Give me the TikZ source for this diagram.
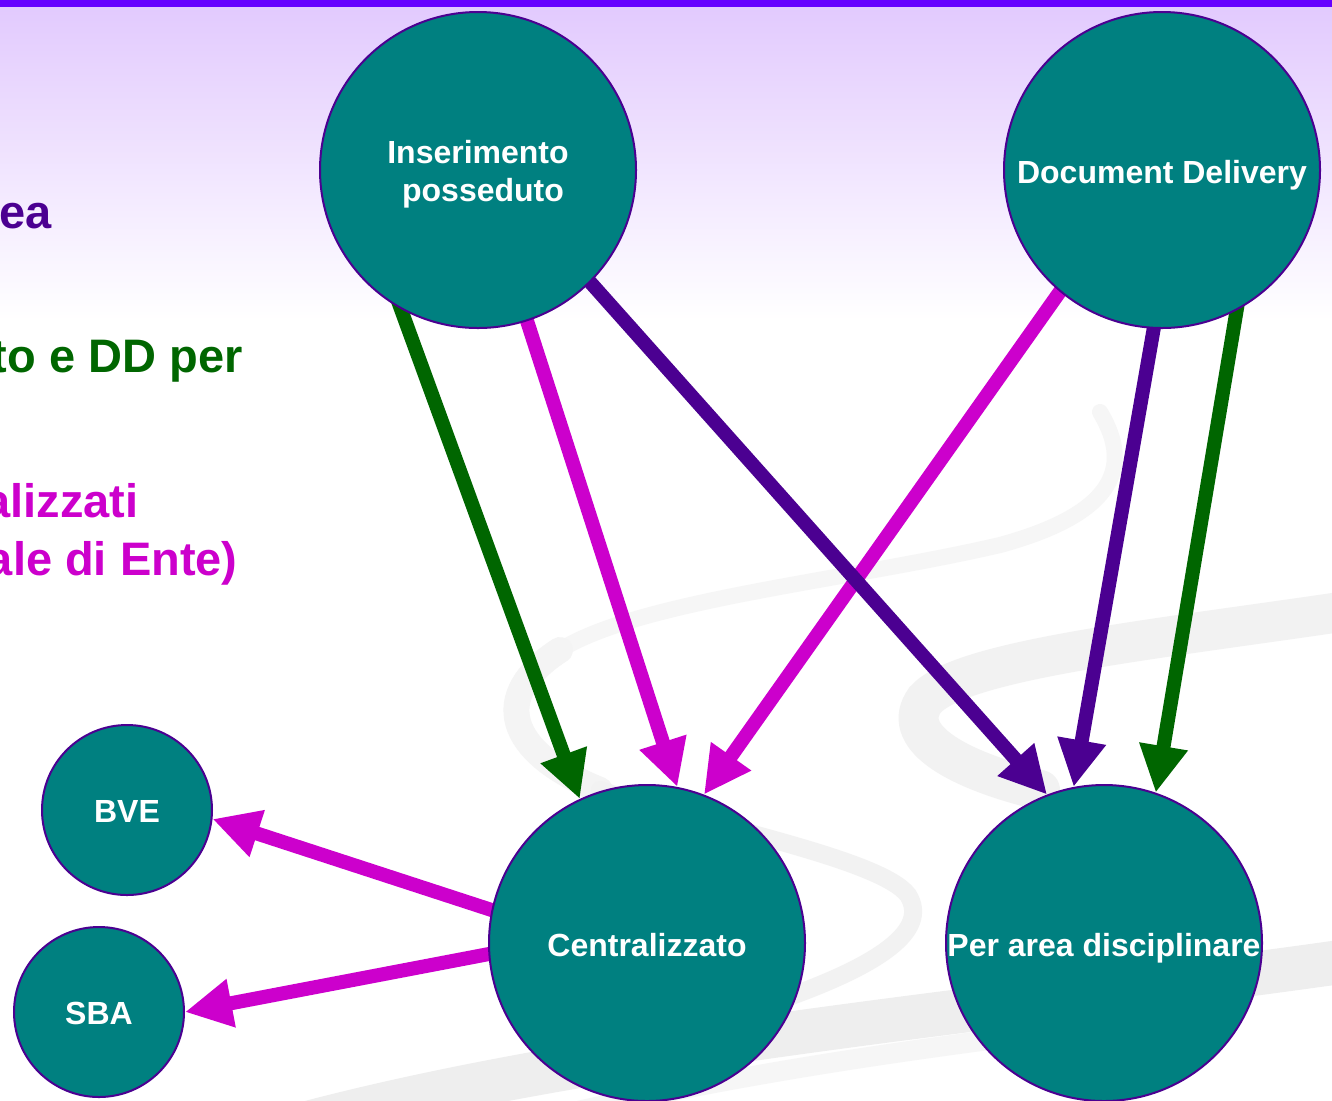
\documentclass[tikz,border=0pt]{standalone}
\usepackage{fontspec}
\setmainfont{Liberation Sans}
\usetikzlibrary{arrows.meta}
\definecolor{tealc}{HTML}{008080}
\definecolor{ind}{HTML}{4B0091}
\definecolor{grn}{HTML}{006600}
\definecolor{mag}{HTML}{CC00CC}
\definecolor{barc}{HTML}{6600FF}
\definecolor{lav}{HTML}{E2CAFE}
\newcommand\txtdown[2]{\raisebox{-#1}[\height][\depth]{#2}}
\pgfdeclarelayer{bg}
\pgfdeclarelayer{arr}
\pgfsetlayers{bg,arr,main}
\begin{document}
\begin{tikzpicture}[x=0.5pt,y=-0.5pt,
  bub/.style={circle,fill=tealc,draw=ind,line width=1pt,text=white,
    font=\fontsize{16}{19}\selectfont\bfseries,align=center,inner sep=0pt},
  bignode/.style={bub,minimum size=158pt},
  smallnode/.style={bub,minimum size=85pt},
  link/.style={line width=7pt,-{Triangle[width=23pt,length=23.5pt]},shorten <=-10pt},
  sidetext/.style={font=\fontsize{23.5}{29}\selectfont\bfseries,inner sep=0pt,anchor=base east},
  swoosh/.style={line cap=round}]
\useasboundingbox (0,0) rectangle (1332,1100);
\begin{pgfonlayer}{bg}
  \fill[white] (0,0) rectangle (1332,1100);
  \shade[top color=lav,bottom color=white] (0,6) rectangle (1332,320);
  \fill[barc] (0,0) rectangle (1332,7);
  \begin{scope}
    \clip (0,0) rectangle (1332,1100);
    % decorative swooshes
    \draw[swoosh,gray!7,line width=8pt] (1100,412) .. controls (1135,470) and (1110,515) .. (1000,545)
      .. controls (850,580) and (640,600) .. (560,650);
    \draw[swoosh,gray!9,line width=13pt] (560,650)
      .. controls (490,695) and (505,752) .. (600,790);
    \draw[swoosh,gray!10,line width=9pt] (600,790) .. controls (700,825) and (880,858) .. (908,895)
      .. controls (930,930) and (880,965) .. (780,1000);
    \draw[swoosh,gray!10,line width=20pt] (1340,612) .. controls (1150,640) and (960,660) .. (925,700)
      .. controls (900,735) and (950,768) .. (1040,790);
    \draw[swoosh,gray!13,line width=22pt] (300,1125) .. controls (600,1045) and (1000,1010) .. (1340,962);
    \draw[swoosh,gray!7,line width=10pt] (560,1115) .. controls (800,1060) and (1000,1040) .. (1060,1030);
  \end{scope}
\end{pgfonlayer}
% left texts (partly cut off, as in the reference)
\begin{scope}
  \clip (0,0) rectangle (1332,1100);
  \node[sidetext,text=ind] (t1) at (52,228) {ea};
  \node[sidetext,text=grn] (t2) at (243,372) {to e DD per};
  \node[sidetext,text=mag] (t3) at (139,517) {alizzati};
  \node[sidetext,text=mag] (t4) at (238,575) {ale di Ente)};
\end{scope}
% nodes
\node[bignode] (ins) at (478,170) {\txtdown{2.5pt}{\begin{tabular}{@{}c@{}}Inserimento\\\hspace*{5pt}posseduto\end{tabular}}};
\node[bignode] (dd) at (1162,170) {\txtdown{2.5pt}{Document Delivery}};
\node[bignode] (cen) at (647,943) {\txtdown{1pt}{Centralizzato}};
\node[bignode] (per) at (1104,943) {\txtdown{2.5pt}{Per area disciplinare}};
\node[smallnode] (bve) at (127,810) {\txtdown{0.5pt}{BVE}};
\node[smallnode] (sba) at (99,1012) {\txtdown{0.5pt}{SBA}};
% connectors
\begin{pgfonlayer}{arr}
  \draw[link,grn] (ins.241) -- (cen.115);
  \draw[link,mag] (ins.-72.8) -- (cen.79.2);
  \draw[link,mag] (dd.-130.4) -- (cen.69);
  \draw[link,ind] (ins.-45.8) -- (per.111);
  \draw[link,ind] (dd.-93.3) -- (per.101);
  \draw[link,grn] (dd.-62.8) -- (per.71.9);
  \draw[link,mag] (cen.168.1) -- (bve.-6.4);
  \draw[link,mag] (cen.184.3) -- (sba.0);
\end{pgfonlayer}
\end{tikzpicture}
\end{document}
